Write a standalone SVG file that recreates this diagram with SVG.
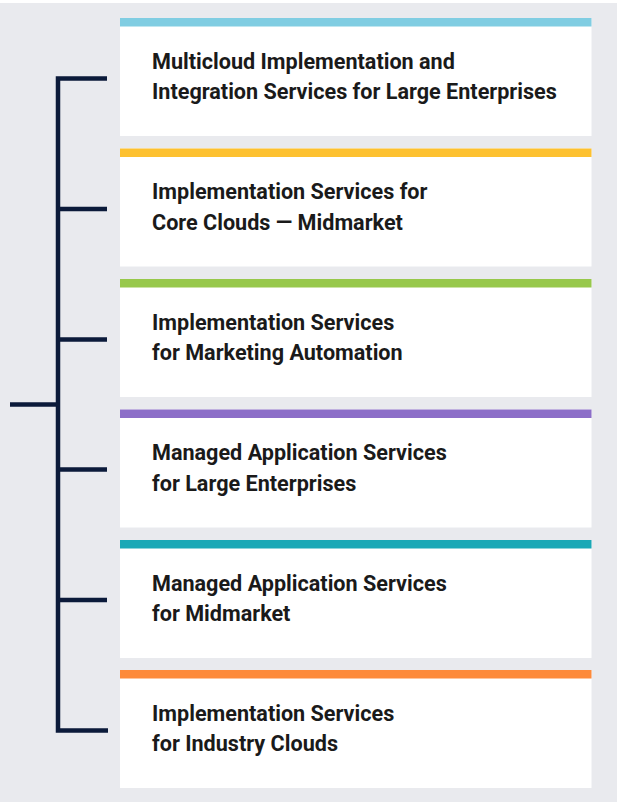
<svg xmlns="http://www.w3.org/2000/svg" width="617" height="802" viewBox="0 0 617 802">
<style>
.box{fill:#ffffff}
.lbl{font-family:"Roboto","Liberation Sans",sans-serif;font-weight:700;font-size:21.6px;fill:#1a1a1a}
.br{stroke:#0b1a3a;stroke-width:4.5;fill:none}
</style>
<rect x="0" y="0" width="617" height="802" fill="#ffffff"/>
<rect x="0" y="3" width="617" height="799" fill="#e9eaee"/>
<g id="connectors">
<path class="br" d="M107 78.5 H58 V730.5 H108"/>
<path class="br" d="M10 404.5 H58"/>
<path class="br" d="M58 209 H107 M58 339.5 H107 M58 469.5 H107 M58 600 H107"/>
</g>
<g id="n1"><rect class="box" x="120" y="18" width="471.5" height="118"/><rect x="120" y="18" width="471.5" height="8.5" fill="#80cde2"/>
<text class="lbl" x="152" y="68.5">Multicloud Implementation and</text><text class="lbl" x="152" y="99">Integration Services for Large Enterprises</text></g>
<g id="n2"><rect class="box" x="120" y="148.5" width="471.5" height="118"/><rect x="120" y="148.5" width="471.5" height="8.5" fill="#fdc130"/>
<text class="lbl" x="152" y="199">Implementation Services for</text><text class="lbl" x="152" y="229.5">Core Clouds — Midmarket</text></g>
<g id="n3"><rect class="box" x="120" y="279" width="471.5" height="118"/><rect x="120" y="279" width="471.5" height="8.5" fill="#97c84b"/>
<text class="lbl" x="152" y="329.5">Implementation Services</text><text class="lbl" x="152" y="360">for Marketing Automation</text></g>
<g id="n4"><rect class="box" x="120" y="409.5" width="471.5" height="118"/><rect x="120" y="409.5" width="471.5" height="8.5" fill="#8c6ec8"/>
<text class="lbl" x="152" y="460">Managed Application Services</text><text class="lbl" x="152" y="490.5">for Large Enterprises</text></g>
<g id="n5"><rect class="box" x="120" y="540" width="471.5" height="118"/><rect x="120" y="540" width="471.5" height="8.5" fill="#1aa8b6"/>
<text class="lbl" x="152" y="590.5">Managed Application Services</text><text class="lbl" x="152" y="621">for Midmarket</text></g>
<g id="n6"><rect class="box" x="120" y="670" width="471.5" height="118"/><rect x="120" y="670" width="471.5" height="8.5" fill="#fd8a3a"/>
<text class="lbl" x="152" y="721">Implementation Services</text><text class="lbl" x="152" y="750.5">for Industry Clouds</text></g>
</svg>
